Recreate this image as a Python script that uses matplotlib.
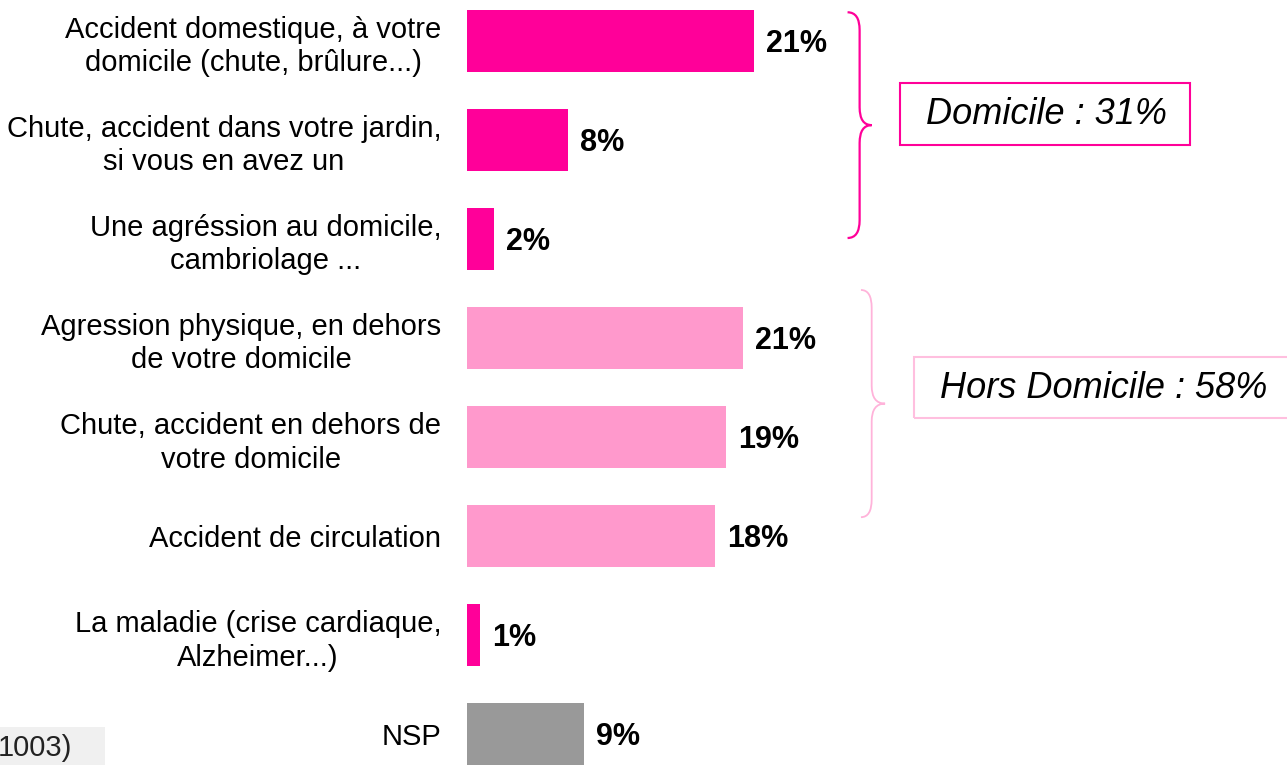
import matplotlib.pyplot as plt
from matplotlib.patches import Rectangle, PathPatch
from matplotlib.path import Path

plt.rcParams['font.family'] = ['Liberation Sans', 'DejaVu Sans']

# Donnees
categories = [
    "Accident domestique, à votre\ndomicile (chute, brûlure...)",
    "Chute, accident dans votre jardin,\nsi vous en avez un",
    "Une agréssion au domicile,\ncambriolage ...",
    "Agression physique, en dehors\nde votre domicile",
    "Chute, accident en dehors de\nvotre domicile",
    "Accident de circulation",
    "La maladie (crise cardiaque,\nAlzheimer...)",
    "NSP",
]
values = [21.4, 7.5, 2.0, 20.6, 19.3, 18.5, 1.0, 8.7]
value_labels = ["21%", "8%", "2%", "21%", "19%", "18%", "1%", "9%"]
groups = ["dom", "dom", "dom", "hors", "hors", "hors", "dom", "nsp"]

group_names = ["Domicile : 31%", "Hors Domicile : 58%"]

DARK = "#FF0099"
LIGHT = "#FF99CC"
GREY = "#999999"
colors = {"dom": DARK, "hors": LIGHT, "nsp": GREY}

W, H = 1287, 765
fig = plt.figure(figsize=(W / 100, H / 100), dpi=100)
# axe : x=0 a 467 px, 13.4 px par point de %
ax = fig.add_axes([467 / W, 0, 804 / W, 1])
ax.set_xlim(0, 60)
ax.set_ylim(7.313, -0.414)

y = list(range(len(categories)))
ax.barh(y, values, height=0.63, color=[colors[g] for g in groups])

for yi, v, lab in zip(y, values, value_labels):
    ax.text(v + 0.9, yi + 0.11, lab, va="baseline", ha="left", fontsize=22,
            fontweight="bold", color="black")

ax.set_yticks(y)
ax.set_yticklabels(categories, fontsize=21, ma="center", color="black",
                   linespacing=1.25)
ax.tick_params(axis="y", length=0, pad=18.5)
ax.set_xticks([])
for s in ax.spines.values():
    s.set_visible(False)


def brace(x0, x1, x2, ytop, ybot, r, color, lw):
    ymid = (ytop + ybot) / 2
    verts = [(x0, ytop), (x1, ytop), (x1, ytop + r),
             (x1, ymid - r), (x1, ymid), (x2, ymid),
             (x1, ymid), (x1, ymid + r),
             (x1, ybot - r), (x1, ybot), (x0, ybot)]
    codes = [Path.MOVETO, Path.CURVE3, Path.CURVE3,
             Path.LINETO, Path.CURVE3, Path.CURVE3,
             Path.CURVE3, Path.CURVE3,
             Path.LINETO, Path.CURVE3, Path.CURVE3]
    ax.add_patch(PathPatch(Path(verts, codes), fill=False, edgecolor=color,
                           lw=lw, clip_on=False))


brace(28.4, 29.3, 30.2, -0.29, 1.99, 0.18, DARK, 1.6)
brace(29.4, 30.2, 31.2, 2.515, 4.81, 0.18, "#FFB3DA", 1.3)


def fig_box(x0, y0, x1, y1, color, lw):
    fig.add_artist(Rectangle((x0 / W, 1 - y1 / H), (x1 - x0) / W, (y1 - y0) / H,
                             transform=fig.transFigure, fill=False,
                             edgecolor=color, lw=lw))


fig_box(900, 83, 1190, 145, DARK, 1.5)
fig.text(1046 / W, 1 - 115 / H, group_names[0], ha="center", va="center",
         fontsize=26, style="italic", color="black")
fig_box(914, 357, 1300, 418, "#FFBFDF", 1.5)
fig.text(1104 / W, 1 - 389 / H, group_names[1], ha="center", va="center",
         fontsize=26, style="italic", color="black")

# bout de note de bas de page coupee
fig.add_artist(Rectangle((0, 0), 105 / W, 38 / H, transform=fig.transFigure,
                         facecolor="#F0F0F0", edgecolor="none", zorder=0))
fig.text(72 / W, 1 - 734 / H, "1003)", ha="right", va="top", fontsize=21,
         color="#222222")

plt.savefig("out.png", dpi=100)
